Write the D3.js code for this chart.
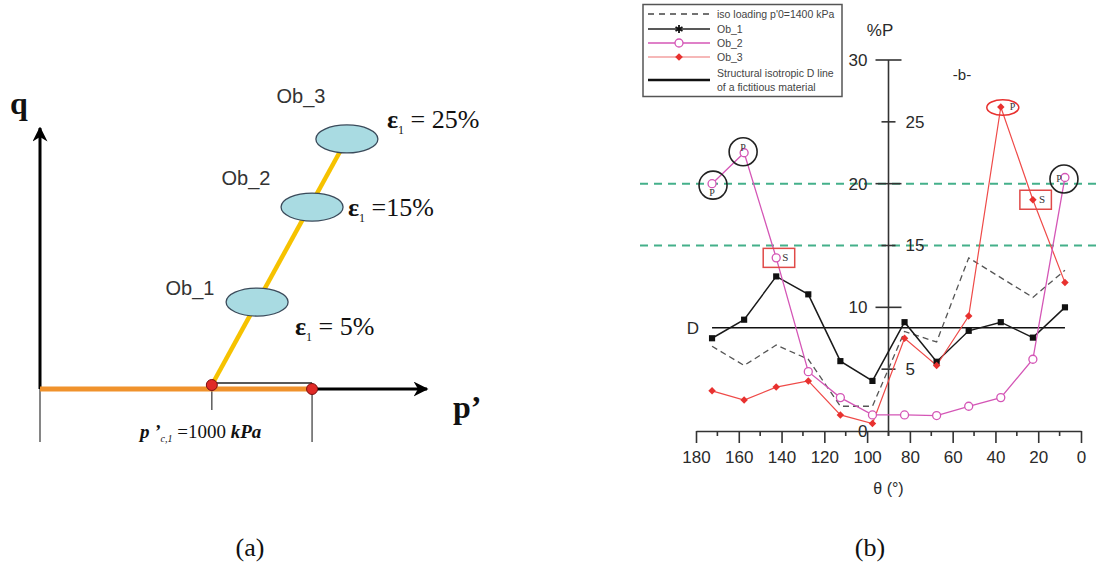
<!DOCTYPE html>
<html>
<head>
<meta charset="utf-8">
<script src="https://cdn.jsdelivr.net/npm/d3@7"></script>
<style>
  html, body { margin: 0; padding: 0; background: #fff; }
  svg { display: block; }
</style>
</head>
<body>
<svg id="chart" width="1097" height="562"></svg>
<script>
// ---------------- DATA ----------------
// Panel (b): percentage of P vs theta
const theta = [172.5, 157.5, 142.5, 127.5, 112.5, 97.5, 82.5, 67.5, 52.5, 37.5, 22.5, 7.5];
const ob1 = [7.5, 9.0, 12.5, 11.05, 5.65, 4.05, 8.8, 5.6, 8.1, 8.8, 7.55, 10.0];
const ob2 = [20.0, 22.5, 14.0, 4.8, 2.7, 1.3, 1.3, 1.25, 2.0, 2.7, 5.8, 20.5];
const ob3 = [3.25, 2.5, 3.55, 4.05, 1.3, 0.6, 7.5, 5.3, 9.3, 26.2, 18.7, 12.0];
const isoLoading = [6.85, 5.3, 6.95, 5.8, 2.0, 2.0, 8.05, 7.2, 14.0, 12.4, 10.8, 13.0];
const dLine = 8.35;
const thresholds = [20, 15];
const xMajorTicks = [180, 160, 140, 120, 100, 80, 60, 40, 20, 0];
const xMinorTicks = [170, 150, 130, 110, 90, 70, 50, 30, 10];
const yMajorTicks = [0, 10, 20, 30];
const yMinorTicks = [5, 15, 25];
const legendLabels = ["iso loading p'0=1400 kPa", "Ob_1", "Ob_2", "Ob_3"];
const legendLastLabel = ["Structural isotropic D line", "of a  fictitious material"];

// Panel (a): schematic stress path (schematic units)
const obNames = ["Ob_1", "Ob_2", "Ob_3"];
const obStrain = ["5%", "15%", "25%"];
const obP = [5.61, 7.03, 7.93];
const obQ = [3.33, 6.97, 9.58];
const pc1 = 4.44;      // p'c,1 = 1000 kPa
const p0 = 7.03;       // second marker on p' axis

// ---------------- SETUP ----------------
const svg = d3.select("#chart");
const sans = "'Liberation Sans', Arial, Helvetica, sans-serif";
const serif = "'Liberation Serif', 'Times New Roman', serif";

// ================= PANEL A =================
const ga = svg.append("g");
const sx = d3.scaleLinear().domain([0, 10]).range([40, 427]);
const sy = d3.scaleLinear().domain([0, 10]).range([389, 128]);

const defs = svg.append("defs");
defs.append("marker").attr("id", "arrow").attr("viewBox", "0 0 10 10")
  .attr("refX", 9).attr("refY", 5).attr("markerWidth", 5).attr("markerHeight", 5)
  .attr("orient", "auto-start-reverse").attr("markerUnits", "strokeWidth")
  .append("path").attr("d", "M0,0 L10,5 L0,10 L3,5 Z").attr("fill", "#000");

// thin lines below p' axis
ga.append("line").attr("x1", sx(0)).attr("x2", sx(0)).attr("y1", sy(0)).attr("y2", 442)
  .attr("stroke", "#444").attr("stroke-width", 1.3);
ga.append("line").attr("x1", sx(pc1)).attr("x2", sx(pc1)).attr("y1", sy(0)).attr("y2", 410)
  .attr("stroke", "#444").attr("stroke-width", 1.3);
ga.append("line").attr("x1", sx(p0)).attr("x2", sx(p0)).attr("y1", sy(0) - 6).attr("y2", 442)
  .attr("stroke", "#444").attr("stroke-width", 1.3);
ga.append("line").attr("x1", sx(pc1)).attr("x2", sx(p0)).attr("y1", sy(0) - 6).attr("y2", sy(0) - 6)
  .attr("stroke", "#222").attr("stroke-width", 1.3);

// axes
ga.append("line").attr("x1", sx(0)).attr("x2", sx(0)).attr("y1", sy(0)).attr("y2", sy(10))
  .attr("stroke", "#000").attr("stroke-width", 3).attr("marker-end", "url(#arrow)");
ga.append("line").attr("x1", sx(p0)).attr("x2", sx(10)).attr("y1", sy(0)).attr("y2", sy(0))
  .attr("stroke", "#000").attr("stroke-width", 3).attr("marker-end", "url(#arrow)");
// orange path
ga.append("line").attr("x1", sx(0)).attr("x2", sx(p0)).attr("y1", sy(0)).attr("y2", sy(0))
  .attr("stroke", "#f0922c").attr("stroke-width", 5);
// yellow path
ga.append("line").attr("x1", sx(pc1)).attr("y1", sy(0) - 4)
  .attr("x2", sx(obP[2])).attr("y2", sy(obQ[2]))
  .attr("stroke", "#f6c200").attr("stroke-width", 4.5);

// ellipses
ga.selectAll("ellipse.ob").data(obP).join("ellipse").attr("class", "ob")
  .attr("cx", (d) => sx(d)).attr("cy", (d, i) => sy(obQ[i]))
  .attr("rx", 31).attr("ry", 14)
  .attr("fill", "#a9dbe2").attr("stroke", "#3a4a5a").attr("stroke-width", 1.3);

// red dots
ga.selectAll("circle.dot").data([[pc1, sy(0) - 4], [p0, sy(0)]]).join("circle").attr("class", "dot")
  .attr("cx", (d) => sx(d[0])).attr("cy", (d) => d[1]).attr("r", 5.5)
  .attr("fill", "#e02a26").attr("stroke", "#7a1010").attr("stroke-width", 1);

// Ob labels
const obLabelPos = [[190, 295], [246, 185], [301, 103]];
ga.selectAll("text.obl").data(obNames).join("text").attr("class", "obl")
  .attr("x", (d, i) => obLabelPos[i][0]).attr("y", (d, i) => obLabelPos[i][1])
  .attr("text-anchor", "middle").attr("font-family", sans).attr("font-size", 20)
  .attr("fill", "#333").text((d) => d);

// strain labels
const epsPos = [[295, 335], [348, 216], [387, 128]];
const epsEq = [" = ", " =", " = "];
obStrain.forEach((s, i) => {
  const t = ga.append("text").attr("x", epsPos[i][0]).attr("y", epsPos[i][1])
    .attr("font-family", serif).attr("font-size", 26).attr("fill", "#111");
  t.append("tspan").attr("font-weight", "bold").text("ε");
  t.append("tspan").attr("font-size", 12).attr("dy", 6).text("1");
  t.append("tspan").attr("dy", -6).text(epsEq[i] + s);
});

// q and p' labels
ga.append("text").attr("x", 10).attr("y", 114).attr("font-family", serif)
  .attr("font-weight", "bold").attr("font-size", 32).attr("fill", "#111").text("q");
ga.append("text").attr("x", 453).attr("y", 418).attr("font-family", serif)
  .attr("font-weight", "bold").attr("font-size", 32).attr("fill", "#111").text("p’");

// p'c,1 label
const pl = ga.append("text").attr("x", 140).attr("y", 438).attr("font-family", serif)
  .attr("font-size", 19).attr("fill", "#111");
pl.append("tspan").attr("font-weight", "bold").attr("font-style", "italic").text("p ’");
pl.append("tspan").attr("font-size", 10).attr("font-style", "italic").attr("dy", 4).text("c,1");
pl.append("tspan").attr("dy", -4).text(" =1000 ");
pl.append("tspan").attr("font-weight", "bold").attr("font-style", "italic").text("kPa");

// ================= PANEL B =================
const gb = svg.append("g");
const x = d3.scaleLinear().domain([180, 0]).range([696, 1081]);
const y = d3.scaleLinear().domain([0, 30]).range([431, 60]);
const axisColor = "#333";
const tickFont = 17;

// green threshold lines
gb.selectAll("line.thr").data(thresholds).join("line").attr("class", "thr")
  .attr("x1", 640).attr("x2", 1097).attr("y1", (d) => y(d)).attr("y2", (d) => y(d))
  .attr("stroke", "#44b08a").attr("stroke-width", 2).attr("stroke-dasharray", "8,6");

// x axis
const xAxis = gb.append("g").attr("transform", `translate(0,${y(0)})`)
  .call(d3.axisBottom(x).tickValues(xMajorTicks).tickSize(12).tickSizeOuter(0).tickPadding(8));
xAxis.select(".domain").attr("stroke", axisColor).attr("stroke-width", 1.6);
xAxis.selectAll(".tick line").attr("stroke", axisColor).attr("stroke-width", 1.6);
xAxis.selectAll(".tick text").attr("font-family", sans).attr("font-size", tickFont).attr("fill", "#2a2a2a");
gb.selectAll("line.xminor").data(xMinorTicks).join("line").attr("class", "xminor")
  .attr("x1", (d) => x(d)).attr("x2", (d) => x(d)).attr("y1", y(0)).attr("y2", y(0) + 5)
  .attr("stroke", axisColor).attr("stroke-width", 1.6);

// y axis at theta = 90
const yx = x(90);
gb.append("line").attr("x1", yx).attr("x2", yx).attr("y1", y(30)).attr("y2", y(0) + 5)
  .attr("stroke", axisColor).attr("stroke-width", 1.6);
gb.selectAll("line.ymaj").data(yMajorTicks.filter((d) => d > 0)).join("line").attr("class", "ymaj")
  .attr("x1", yx - 13).attr("x2", yx + 13).attr("y1", (d) => y(d)).attr("y2", (d) => y(d))
  .attr("stroke", axisColor).attr("stroke-width", 1.6);
gb.selectAll("line.ymin").data(yMinorTicks).join("line").attr("class", "ymin")
  .attr("x1", yx - 7).attr("x2", yx + 7).attr("y1", (d) => y(d)).attr("y2", (d) => y(d))
  .attr("stroke", axisColor).attr("stroke-width", 1.6);
gb.selectAll("text.ymajl").data(yMajorTicks).join("text").attr("class", "ymajl")
  .attr("x", (d) => d === 0 ? yx - 21 : yx - 21).attr("y", (d) => y(d)).attr("dy", "0.35em")
  .attr("text-anchor", "end").attr("font-family", sans).attr("font-size", tickFont).attr("fill", "#2a2a2a")
  .text((d) => d);
gb.selectAll("text.yminl").data(yMinorTicks).join("text").attr("class", "yminl")
  .attr("x", yx + 17).attr("y", (d) => y(d)).attr("dy", "0.35em")
  .attr("text-anchor", "start").attr("font-family", sans).attr("font-size", tickFont).attr("fill", "#2a2a2a")
  .text((d) => d);

// titles
gb.append("text").attr("x", 880).attr("y", 36).attr("text-anchor", "middle")
  .attr("font-family", sans).attr("font-size", 17).attr("fill", "#2a2a2a").text("%P");
gb.append("text").attr("x", 962).attr("y", 80).attr("text-anchor", "middle")
  .attr("font-family", sans).attr("font-size", 15).attr("fill", "#2a2a2a").text("-b-");
gb.append("text").attr("x", x(90)).attr("y", 494).attr("text-anchor", "middle")
  .attr("font-family", sans).attr("font-size", 16).attr("fill", "#2a2a2a").text("θ (°)");

// D line
gb.append("line").attr("x1", x(theta[0])).attr("x2", x(theta[theta.length - 1]))
  .attr("y1", y(dLine)).attr("y2", y(dLine)).attr("stroke", "#111").attr("stroke-width", 1.6);
gb.append("text").attr("x", 693).attr("y", y(dLine)).attr("dy", "0.35em").attr("text-anchor", "middle")
  .attr("font-family", sans).attr("font-size", 17).attr("fill", "#2a2a2a").text("D");

const line = (vals) => d3.line().x((d, i) => x(theta[i])).y((d) => y(d))(vals);

// iso loading dashed
gb.append("path").attr("d", line(isoLoading)).attr("fill", "none")
  .attr("stroke", "#555").attr("stroke-width", 1.3).attr("stroke-dasharray", "6,4");

// Ob_1
gb.append("path").attr("d", line(ob1)).attr("fill", "none").attr("stroke", "#1a1a1a").attr("stroke-width", 1.5);
// Ob_3
const c3 = "#e8312f";
gb.append("path").attr("d", line(ob3)).attr("fill", "none").attr("stroke", "#ef4a48").attr("stroke-width", 1.2);
// Ob_2
const c2 = "#d456b6";
gb.append("path").attr("d", line(ob2)).attr("fill", "none").attr("stroke", c2).attr("stroke-width", 1.3);

gb.selectAll("path.m1").data(ob1).join("path").attr("class", "m1")
  .attr("transform", (d, i) => `translate(${x(theta[i])},${y(d)})`)
  .attr("d", d3.symbol(d3.symbolSquare, 38)).attr("fill", "#111");
gb.selectAll("path.m3").data(ob3).join("path").attr("class", "m3")
  .attr("transform", (d, i) => `translate(${x(theta[i])},${y(d)}) rotate(45)`)
  .attr("d", d3.symbol(d3.symbolSquare, 28)).attr("fill", c3);
gb.selectAll("circle.m2").data(ob2).join("circle").attr("class", "m2")
  .attr("cx", (d, i) => x(theta[i])).attr("cy", (d) => y(d)).attr("r", 4)
  .attr("fill", "#fff").attr("stroke", c2).attr("stroke-width", 1.3);

// annotations: P circles (Ob_2), P ellipse (Ob_3), S boxes
const pCircles = [0, 1, 11];
const pCircleOff = [[1, 1.5], [-1, -1], [-1, 1.5]];
const pTextOff = [[0, 9], [-1, -5], [-6, 1]];
gb.selectAll("circle.pc").data(pCircles).join("circle").attr("class", "pc")
  .attr("cx", (d, k) => x(theta[d]) + pCircleOff[k][0]).attr("cy", (d, k) => y(ob2[d]) + pCircleOff[k][1])
  .attr("r", 14).attr("fill", "none").attr("stroke", "#222").attr("stroke-width", 1.6);
gb.selectAll("text.pt").data(pCircles).join("text").attr("class", "pt")
  .attr("x", (d, k) => x(theta[d]) + pTextOff[k][0]).attr("y", (d, k) => y(ob2[d]) + pTextOff[k][1])
  .attr("dy", "0.35em").attr("text-anchor", "middle").attr("font-family", serif)
  .attr("font-size", 10).attr("fill", "#333").text("P");

// Ob_3 P ellipse at theta 37.5
gb.append("ellipse").attr("cx", x(theta[9]) + 2).attr("cy", y(ob3[9]) + 0.5).attr("rx", 16).attr("ry", 7.8)
  .attr("fill", "none").attr("stroke", c3).attr("stroke-width", 1.5);
gb.append("text").attr("x", x(theta[9]) + 9).attr("y", y(ob3[9])).attr("dy", "0.35em")
  .attr("font-family", serif).attr("font-size", 10).attr("fill", "#333").text("P");

// S boxes
const sBoxes = [[ob2, 2], [ob3, 10]];
sBoxes.forEach(([s, i]) => {
  const cx = x(theta[i]), cy = y(s[i]);
  gb.append("rect").attr("x", cx - 13).attr("y", cy - 9.5).attr("width", 31.5).attr("height", 19)
    .attr("fill", "none").attr("stroke", "#e04a48").attr("stroke-width", 1.5);
  gb.append("text").attr("x", cx + 6).attr("y", cy - 1).attr("dy", "0.35em")
    .attr("font-family", serif).attr("font-size", 11).attr("fill", "#333").text("S");
});

// legend
const lg = svg.append("g");
lg.append("rect").attr("x", 643).attr("y", 4.5).attr("width", 199).attr("height", 92)
  .attr("fill", "#fff").attr("stroke", "#555").attr("stroke-width", 1.5);
const rowY = [14, 29, 43, 57];
const lx1 = 648, lx2 = 710, lmx = 679;
lg.append("line").attr("x1", lx1).attr("x2", lx2).attr("y1", rowY[0]).attr("y2", rowY[0])
  .attr("stroke", "#444").attr("stroke-width", 1.3).attr("stroke-dasharray", "6,5");
lg.append("line").attr("x1", lx1).attr("x2", lx2).attr("y1", rowY[1]).attr("y2", rowY[1])
  .attr("stroke", "#222").attr("stroke-width", 1.3);
lg.append("path").attr("transform", `translate(${lmx},${rowY[1]})`)
  .attr("d", d3.symbol(d3.symbolAsterisk, 45)).attr("stroke", "#111").attr("stroke-width", 1.8).attr("fill", "none");
lg.append("line").attr("x1", lx1).attr("x2", lx2).attr("y1", rowY[2]).attr("y2", rowY[2])
  .attr("stroke", c2).attr("stroke-width", 1.3);
lg.append("circle").attr("cx", lmx).attr("cy", rowY[2]).attr("r", 4)
  .attr("fill", "#fff").attr("stroke", c2).attr("stroke-width", 1.3);
lg.append("line").attr("x1", lx1).attr("x2", lx2).attr("y1", rowY[3]).attr("y2", rowY[3])
  .attr("stroke", "#f3a0a0").attr("stroke-width", 1.3);
lg.append("path").attr("transform", `translate(${lmx},${rowY[3]}) rotate(45)`)
  .attr("d", d3.symbol(d3.symbolSquare, 30)).attr("fill", c3);
lg.append("line").attr("x1", lx1).attr("x2", lx2).attr("y1", 80).attr("y2", 80)
  .attr("stroke", "#111").attr("stroke-width", 2.5);
lg.selectAll("text.lt").data(legendLabels).join("text").attr("class", "lt")
  .attr("x", 717).attr("y", (d, i) => rowY[i]).attr("dy", "0.35em")
  .attr("font-family", sans).attr("font-size", 10.5).attr("fill", "#444").text((d) => d);
lg.selectAll("text.lt2").data(legendLastLabel).join("text").attr("class", "lt2")
  .attr("x", 717).attr("y", (d, i) => 73 + i * 14).attr("dy", "0.35em")
  .attr("font-family", sans).attr("font-size", 10.5).attr("fill", "#444").text((d) => d);

// captions
svg.selectAll("text.cap").data(["(a)", "(b)"]).join("text").attr("class", "cap")
  .attr("x", (d, i) => i === 0 ? 250 : 870).attr("y", 556).attr("text-anchor", "middle")
  .attr("font-family", serif).attr("font-size", 26).attr("fill", "#111").text((d) => d);
</script>
</body>
</html>
